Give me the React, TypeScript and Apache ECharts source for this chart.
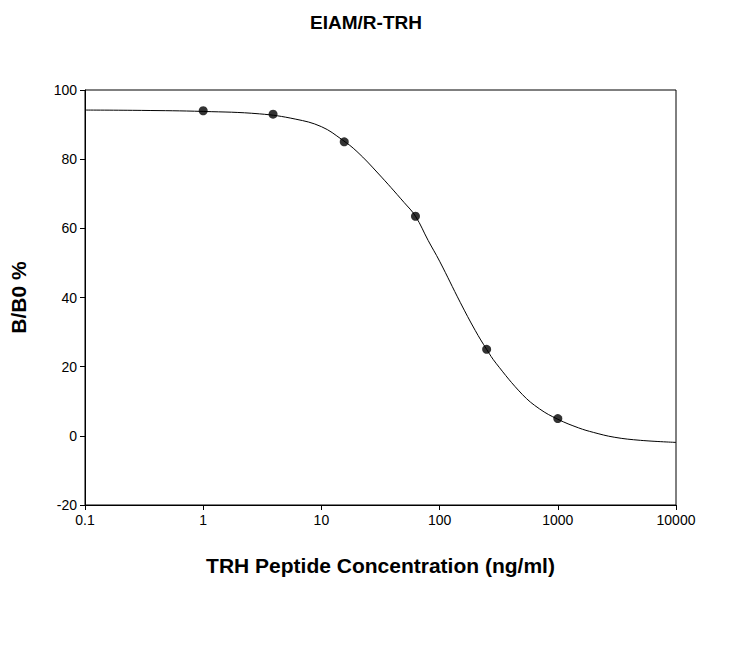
import React, { useEffect, useRef } from "react";
import * as echarts from "echarts";

const pointX = [1, 3.9, 15.6, 62.5, 250, 1000];
const pointY = [94, 93, 85, 63.5, 25, 5];
const curveX = [0.1, 0.3, 1, 3, 6, 10, 15, 20, 30, 50, 62.5, 80, 100, 150, 200, 250, 300, 500, 700, 1000, 1500, 2000, 3000, 5000, 10000];
const curveY = [94.2, 94.1, 93.8, 93.1, 91.6, 89.4, 85.6, 82.2, 76, 67.5, 63.5, 56.5, 50.5, 38.5, 30.5, 25, 21, 12, 7.8, 4.8, 2.3, 1, -0.4, -1.3, -1.9];
const yTicks = [-20, 0, 20, 40, 60, 80, 100];

export default function App() {
  const ref = useRef<HTMLDivElement>(null);
  useEffect(() => {
    const chart = echarts.init(ref.current!, null, { renderer: "svg" });
    const font = "Arial, 'Liberation Sans', sans-serif";
    chart.setOption({
      animation: false,
      backgroundColor: "#fff",
      title: {
        text: "EIAM/R-TRH", left: "center", top: 8,
        textStyle: { fontFamily: font, fontWeight: "bold", fontSize: 19, color: "#000" },
      },
      grid: { left: 83, right: 56, top: 90, bottom: 141, show: true, borderColor: "#000", borderWidth: 1 },
      xAxis: {
        type: "log", logBase: 10, min: 0.1, max: 10000,
        name: "TRH Peptide Concentration (ng/ml)", nameLocation: "middle", nameGap: 50,
        nameTextStyle: { fontFamily: font, fontWeight: "bold", fontSize: 21, color: "#000" },
        axisLine: { onZero: false, lineStyle: { color: "#000" } },
        axisTick: { inside: false, length: 5, lineStyle: { color: "#000" } },
        axisLabel: { fontFamily: font, fontSize: 14, color: "#000", margin: 8,
          formatter: (v: number) => (v < 1 ? String(Number(v.toFixed(1))) : String(Math.round(v))) },
        splitLine: { show: false },
      },
      yAxis: {
        type: "value", min: -20, max: 100, interval: 20,
        name: "B/B0 %", nameLocation: "middle", nameGap: 56,
        nameTextStyle: { fontFamily: font, fontWeight: "bold", fontSize: 21, color: "#000" },
        axisLine: { show: true, onZero: false, lineStyle: { color: "#000" } },
        axisTick: { show: true, length: 5, lineStyle: { color: "#000" } },
        axisLabel: { fontFamily: font, fontSize: 14, color: "#000",
          formatter: (v: number) => (yTicks.includes(v) ? String(v) : "") },
        splitLine: { show: false },
      },
      series: [
        {
          type: "line", smooth: 0.4, symbol: "none",
          data: curveX.map((x, i) => [x, curveY[i]]),
          lineStyle: { color: "#000", width: 1 },
        },
        {
          type: "scatter", symbol: "circle", symbolSize: 9,
          data: pointX.map((x, i) => [x, pointY[i]]),
          itemStyle: { color: "#000" },
        },
      ],
    });
    return () => chart.dispose();
  }, []);
  return <div ref={ref} style={{ position: "fixed", left: 0, top: 0, width: 732, height: 646 }} />;
}
